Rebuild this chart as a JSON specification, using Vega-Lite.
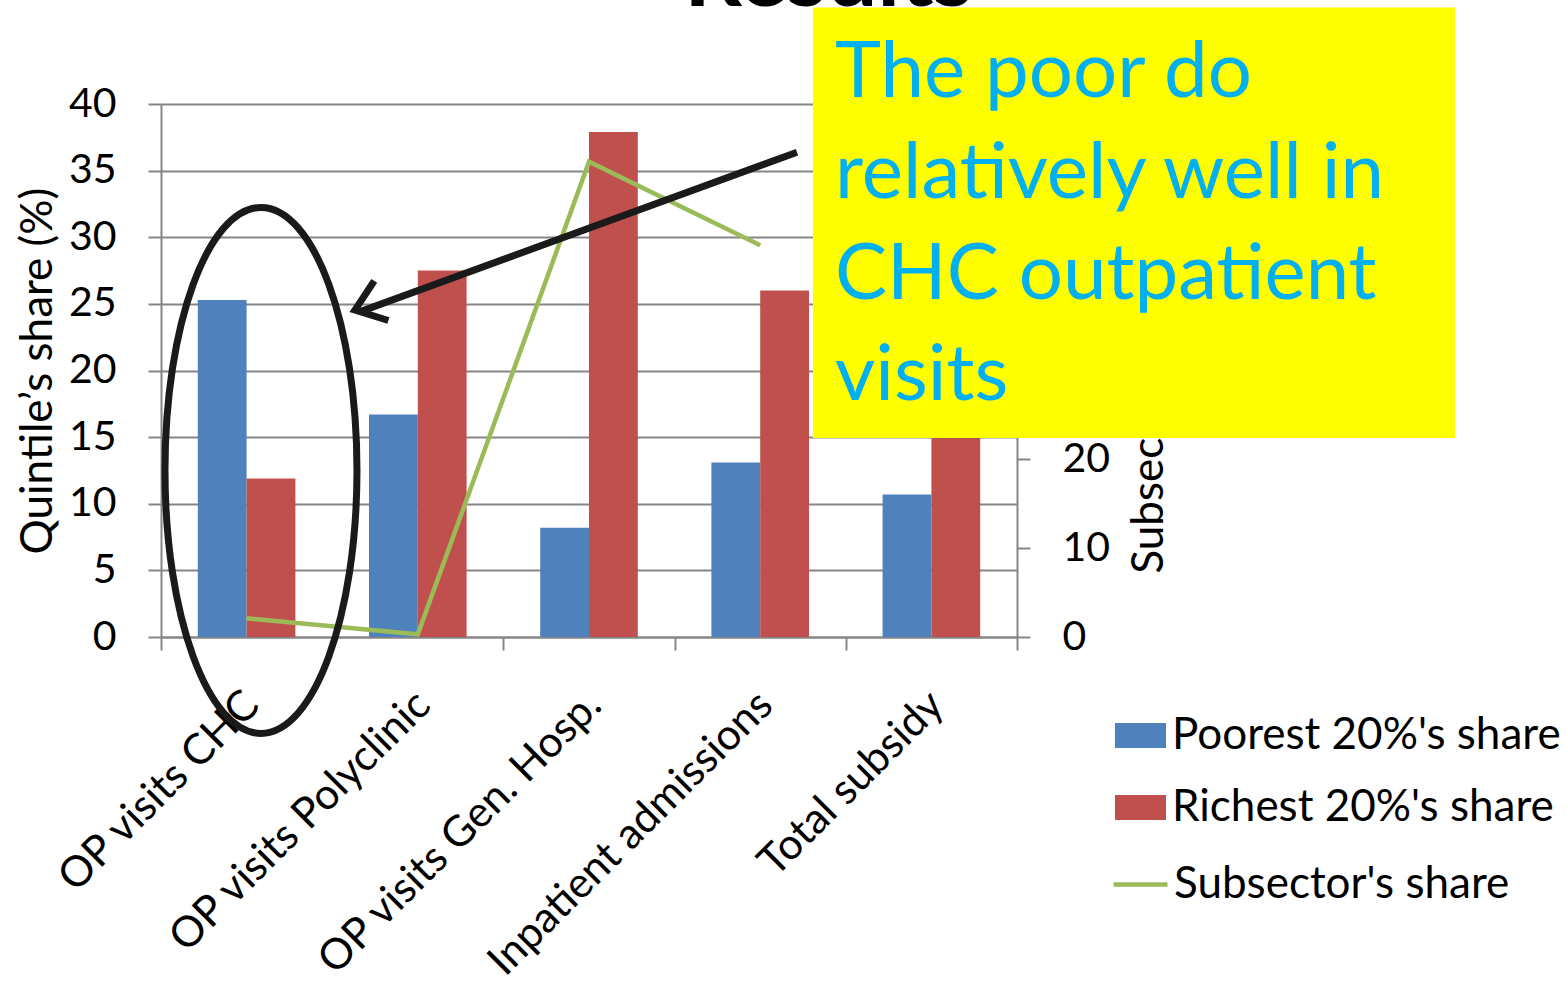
{
  "$schema": "https://vega.github.io/schema/vega-lite/v6.json",
  "width": 856,
  "height": 533,
  "autosize": {"type": "none"},
  "padding": {"left": 161, "top": 104, "right": 549, "bottom": 349},
  "background": "white",
  "config": {
    "font": "Lato",
    "view": {"stroke": null},
    "axis": {
      "labelFont": "Lato", "titleFont": "Lato", "labelFontSize": 41, "titleFontSize": 44,
      "titleFontWeight": "normal", "labelColor": "black", "titleColor": "black",
      "domainColor": "#868686", "tickColor": "#868686", "gridColor": "#868686",
      "domainWidth": 2, "tickWidth": 2, "gridWidth": 2, "tickSize": 13, "labelPadding": 30,
      "labelOverlap": false, "labelFlush": false, "labelBound": false, "labelLimit": 0
    },
    "legend": {"labelFont": "Lato", "labelFontSize": 44, "labelColor": "black", "padding": 0, "labelLimit": 0}
  },
  "datasets": {
    "bars": [
      {"category": "OP visits CHC", "group": "Poorest 20%'s share", "share": 25.3},
      {"category": "OP visits CHC", "group": "Richest 20%'s share", "share": 11.9},
      {"category": "OP visits Polyclinic", "group": "Poorest 20%'s share", "share": 16.7},
      {"category": "OP visits Polyclinic", "group": "Richest 20%'s share", "share": 27.5},
      {"category": "OP visits Gen. Hosp.", "group": "Poorest 20%'s share", "share": 8.2},
      {"category": "OP visits Gen. Hosp.", "group": "Richest 20%'s share", "share": 37.9},
      {"category": "Inpatient admissions", "group": "Poorest 20%'s share", "share": 13.1},
      {"category": "Inpatient admissions", "group": "Richest 20%'s share", "share": 26.0},
      {"category": "Total subsidy", "group": "Poorest 20%'s share", "share": 10.7},
      {"category": "Total subsidy", "group": "Richest 20%'s share", "share": 31.0}
    ],
    "sub": [
      {"category": "OP visits CHC", "share": 2.1},
      {"category": "OP visits Polyclinic", "share": 0.3},
      {"category": "OP visits Gen. Hosp.", "share": 53.5},
      {"category": "Inpatient admissions", "share": 44.1}
    ],
    "ellipse": [{"ax": 0.584, "ay": 12.5}],
    "arrow": [{"ax": 3.715, "ay": 36.38, "ax2": 1.16, "ay2": 24.4}],
    "arrowhead": [{"ax": 1.133, "ay": 24.53}],
    "title": [{"ax": 3.9, "ay": 47.35, "label": "Results"}],
    "box": [{"ax": 3.808, "ax2": 7.558, "ay": 47.25, "ay2": 14.93}],
    "note": [{"ax": 3.937, "ay": 40.5, "label": "The poor do\nrelatively well in\nCHC outpatient\nvisits"}]
  },
  "layer": [
    {
      "data": {"name": "bars"},
      "mark": {"type": "bar"},
      "encoding": {
        "x": {
          "field": "category", "type": "nominal", "sort": null,
          "scale": {"paddingInner": 0, "paddingOuter": 0},
          "axis": {"title": null, "labelAngle": -45, "labelAlign": "right", "labelBaseline": "middle",
                   "tickBand": "extent", "labelPadding": 48, "labelOffset": 5, "labelFontSize": 42.5, "grid": false}
        },
        "xOffset": {"field": "group", "type": "nominal", "sort": null, "scale": {"paddingInner": 0, "paddingOuter": 0.754}},
        "y": {
          "field": "share", "type": "quantitative",
          "scale": {"domain": [0, 40], "nice": false},
          "axis": {"title": "Quintile’s share (%)", "values": [0, 5, 10, 15, 20, 25, 30, 35, 40],
                   "grid": true, "titlePadding": 8, "labelPadding": 32}
        },
        "color": {
          "field": "group", "type": "nominal", "sort": null,
          "scale": {"domain": ["Poorest 20%'s share", "Richest 20%'s share"], "range": ["#4F81BD", "#C0504D"]},
          "legend": {"orient": "none", "legendX": 954, "legendY": 606, "title": null,
                     "symbolType": "M -1 -0.49 L 1 -0.49 L 1 0.49 L -1 0.49 Z", "symbolSize": 2601,
                     "symbolStrokeWidth": 0, "labelOffset": 6, "rowPadding": 24}
        }
      }
    },
    {
      "data": {"name": "sub"},
      "mark": {"type": "line", "strokeWidth": 4.5},
      "encoding": {
        "x": {
          "field": "category", "type": "nominal",
          "scale": {"type": "point", "padding": 0.5,
                    "domain": ["OP visits CHC", "OP visits Polyclinic", "OP visits Gen. Hosp.", "Inpatient admissions", "Total subsidy"]},
          "axis": null
        },
        "y": {
          "field": "share", "type": "quantitative",
          "scale": {"domain": [0, 60], "nice": false},
          "axis": {"orient": "right", "title": "Subsector's share (%)", "values": [0, 10, 20, 30, 40, 50, 60],
                   "grid": false, "labelAlign": "left", "labelPadding": 32,
                   "titleAngle": -90, "titleBaseline": "top", "titlePadding": 18}
        },
        "stroke": {
          "datum": "Subsector's share",
          "scale": {"range": ["#9BBB59"]},
          "legend": {"orient": "none", "legendX": 950, "legendY": 751, "title": null,
                     "symbolType": "stroke", "symbolSize": 2916, "symbolStrokeWidth": 4.5, "labelOffset": 4}
        }
      }
    },
    {
      "data": {"name": "ellipse"},
      "mark": {"type": "point", "shape": "M 0 -1 C 0.2016 -1 0.365 -0.5523 0.365 0 C 0.365 0.5523 0.2016 1 0 1 C -0.2016 1 -0.365 0.5523 -0.365 0 C -0.365 -0.5523 -0.2016 -1 0 -1 Z",
               "size": 276676, "filled": false, "stroke": "#1a1a1a", "strokeWidth": 7, "opacity": 1},
      "encoding": {
        "x": {"field": "ax", "type": "quantitative", "scale": {"domain": [0, 5], "nice": false, "zero": false}, "axis": null},
        "y": {"field": "ay", "type": "quantitative", "scale": {"domain": [0, 40], "nice": false}, "axis": null}
      }
    },
    {
      "data": {"name": "arrow"},
      "mark": {"type": "rule", "stroke": "#1a1a1a", "strokeWidth": 7},
      "encoding": {
        "x": {"field": "ax", "type": "quantitative", "scale": {"domain": [0, 5], "nice": false, "zero": false}, "axis": null},
        "x2": {"field": "ax2"},
        "y": {"field": "ay", "type": "quantitative", "scale": {"domain": [0, 40], "nice": false}, "axis": null},
        "y2": {"field": "ay2"}
      }
    },
    {
      "data": {"name": "arrowhead"},
      "mark": {"type": "point", "shape": "M -1 -0.75 L 0 0 L -1 0.75", "size": 3136, "angle": 160.3,
               "filled": false, "stroke": "#1a1a1a", "strokeWidth": 7, "opacity": 1, "strokeJoin": "miter"},
      "encoding": {
        "x": {"field": "ax", "type": "quantitative", "scale": {"domain": [0, 5], "nice": false, "zero": false}, "axis": null},
        "y": {"field": "ay", "type": "quantitative", "scale": {"domain": [0, 40], "nice": false}, "axis": null}
      }
    },
    {
      "data": {"name": "title"},
      "mark": {"type": "text", "fontSize": 90, "fontWeight": "bold", "align": "center", "baseline": "alphabetic", "color": "black"},
      "encoding": {
        "x": {"field": "ax", "type": "quantitative", "scale": {"domain": [0, 5], "nice": false, "zero": false}, "axis": null},
        "y": {"field": "ay", "type": "quantitative", "scale": {"domain": [0, 40], "nice": false}, "axis": null},
        "text": {"field": "label"}
      }
    },
    {
      "data": {"name": "box"},
      "mark": {"type": "rect", "fill": "#FFFF00"},
      "encoding": {
        "x": {"field": "ax", "type": "quantitative", "scale": {"domain": [0, 5], "nice": false, "zero": false}, "axis": null},
        "x2": {"field": "ax2"},
        "y": {"field": "ay", "type": "quantitative", "scale": {"domain": [0, 40], "nice": false}, "axis": null},
        "y2": {"field": "ay2"}
      }
    },
    {
      "data": {"name": "note"},
      "mark": {"type": "text", "fontSize": 78, "lineHeight": 101, "lineBreak": "\n", "align": "left", "baseline": "alphabetic", "color": "#00B0F0"},
      "encoding": {
        "x": {"field": "ax", "type": "quantitative", "scale": {"domain": [0, 5], "nice": false, "zero": false}, "axis": null},
        "y": {"field": "ay", "type": "quantitative", "scale": {"domain": [0, 40], "nice": false}, "axis": null},
        "text": {"field": "label"}
      }
    }
  ],
  "resolve": {"scale": {"x": "independent", "y": "independent"}}
}
